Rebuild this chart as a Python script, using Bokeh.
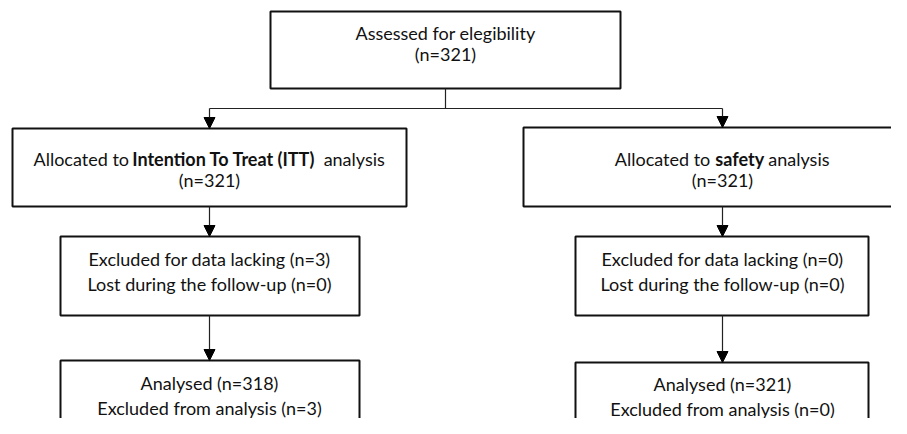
from bokeh.plotting import figure
from bokeh.models import Range1d, Arrow, NormalHead
from bokeh.core.properties import value
from bokeh.embed import file_html
from bokeh.resources import INLINE

# ---- content (data) ----
top_lines = ["Assessed for elegibility", "(n=321)"]
itt_parts = [("Allocated to", False), ("Intention To Treat (ITT)", True), ("analysis", False)]
itt_n = "(n=321)"
safety_parts = [("Allocated to", False), ("safety", True), ("analysis", False)]
safety_n = "(n=321)"
left_excl = ["Excluded for data lacking (n=3)", "Lost during the follow-up (n=0)"]
right_excl = ["Excluded for data lacking (n=0)", "Lost during the follow-up (n=0)"]
left_final = ["Analysed (n=318)", "Excluded from analysis (n=3)"]
right_final = ["Analysed (n=321)", "Excluded from analysis (n=0)"]

FONT = "Lato"
FS = 18
FSPX = f"{FS}px"
REF = 19.0  # calibri-like reference size for layout

# approx Calibri widths (em)
REG = {' ': .226, 'A': .579, 'l': .229, 'o': .527, 'c': .423, 'a': .479, 't': .335, 'e': .498,
       'd': .525, 'n': .525, 'y': .453, 's': .391, 'i': .229}
BLD = {' ': .226, 'I': .267, 'n': .537, 't': .347, 'e': .503, 'i': .246, 'o': .538, 'T': .495,
       'r': .355, 'a': .494, '(': .312, ')': .312, 's': .399, 'f': .316, 'y': .474}


def tw(s, bold):
    d = BLD if bold else REG
    return sum(d.get(ch, .5) for ch in s) * REF


p = figure(width=891, height=418, output_backend="svg", toolbar_location=None,
           x_range=Range1d(0, 891), y_range=Range1d(418, 0), min_border=0)
p.axis.visible = False
p.grid.visible = False
p.outline_line_color = None
p.background_fill_color = "white"
p.border_fill_color = "white"

# boxes
boxes = dict(
    left=[270, 12, 523, 60, 575, 60, 575],
    right=[620, 406, 921, 359, 868, 359, 868],
    top=[11, 128, 127, 236, 236, 360, 362],
    bottom=[88, 206, 206, 315, 315, 460, 460],
)
p.quad(left=boxes["left"], right=boxes["right"], top=boxes["top"], bottom=boxes["bottom"],
       fill_color="white", line_color="#111111", line_width=2)

# plain connectors
p.segment(x0=[445, 209], y0=[88, 108], x1=[445, 722], y1=[108, 108], line_color="#222222", line_width=1.2)

# arrows
arrows = [(209, 108, 128), (722, 108, 127), (209, 206, 236), (722, 206, 236), (209, 315, 360), (722, 315, 362)]
for x, y0, y1 in arrows:
    p.add_layout(Arrow(end=NormalHead(size=11, fill_color="black", line_color="black", line_width=1),
                       x_start=x, y_start=y0, x_end=x, y_end=y1, line_color="#222222", line_width=1.2))


def txt(xs, ys, texts, bold=False):
    p.text(x=xs, y=ys, text=texts, text_font=value(FONT), text_font_size=FSPX,
           text_font_style="bold" if bold else "normal",
           text_align="center", text_baseline="middle", text_color="#111111")


def mixed(parts, cx, y, gaps):
    widths = [tw(s, b) for s, b in parts]
    total = sum(widths) + sum(gaps)
    x = cx - total / 2
    for i, ((s, b), w) in enumerate(zip(parts, widths)):
        txt([x + w / 2], [y], [s], bold=b)
        x += w + (gaps[i] if i < len(gaps) else 0)


txt([445, 445], [32, 53], top_lines)
mixed(itt_parts, 209, 158, [.226 * REF, .452 * REF])
txt([209], [179], [itt_n])
mixed(safety_parts, 722, 158, [.34 * REF, .26 * REF])
txt([722], [179], [safety_n])
txt([209, 209], [258, 283], left_excl)
txt([722, 722], [258, 283], right_excl)
txt([209, 209], [382, 407], left_final)
txt([722, 722], [383, 408], right_final)

open("out.html", "w").write(file_html(p, INLINE))
